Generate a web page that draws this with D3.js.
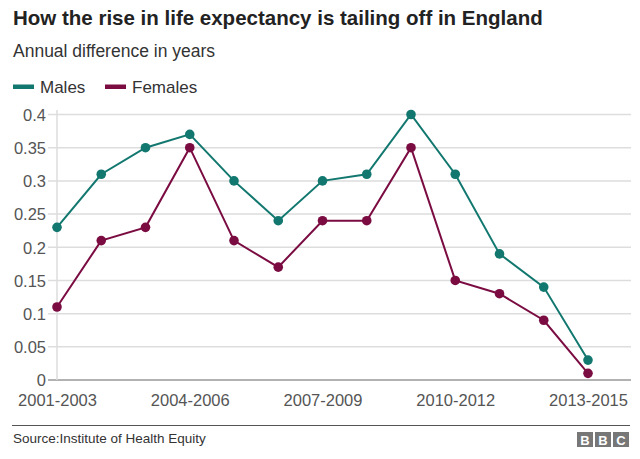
<!DOCTYPE html>
<html><head><meta charset="utf-8">
<script src="https://cdn.jsdelivr.net/npm/d3@7"></script>
<style>body{margin:0;background:#fff;font-family:"Liberation Sans",Arial,sans-serif;}</style>
</head><body><svg id="c" width="640" height="459"></svg>
<script>
const periods = ["2001-2003","2002-2004","2003-2005","2004-2006","2005-2007","2006-2008","2007-2009","2008-2010","2009-2011","2010-2012","2011-2013","2012-2014","2013-2015"];
const males   = [0.23,0.31,0.35,0.37,0.30,0.24,0.30,0.31,0.40,0.31,0.19,0.14,0.03];
const females = [0.11,0.21,0.23,0.35,0.21,0.17,0.24,0.24,0.35,0.15,0.13,0.09,0.01];
const yTicks = [0,0.05,0.1,0.15,0.2,0.25,0.3,0.35,0.4];
const xTickLabels = ["2001-2003","2004-2006","2007-2009","2010-2012","2013-2015"];
const seriesNames = ["Males","Females"];
const colors = {Males:"#12786f", Females:"#7a0c42"};

const svg = d3.select("#c");
svg.append("text").attr("x",13).attr("y",25).attr("font-size",20.5).attr("font-weight","bold").attr("fill","#222").text("How the rise in life expectancy is tailing off in England");
svg.append("text").attr("x",13).attr("y",57).attr("font-size",17.5).attr("fill","#333").text("Annual difference in years");

// legend
const leg = [{n:"Males",x:13},{n:"Females",x:105}];
leg.forEach(d=>{
  svg.append("rect").attr("x",d.x).attr("y",84.5).attr("width",21).attr("height",4.5).attr("fill",colors[d.n]);
  svg.append("text").attr("x",d.x+27).attr("y",92.5).attr("font-size",17).attr("fill","#333").text(d.n);
});

const x = d3.scalePoint().domain(periods).range([57,588]);
const y = d3.scaleLinear().domain([0,0.4]).range([380,114.5]);

// grid
const g = svg.append("g");
yTicks.forEach(t=>{
  g.append("line").attr("x1",48).attr("x2",631).attr("y1",y(t)).attr("y2",y(t))
   .attr("stroke", t===0 ? "#999" : "#ddd").attr("stroke-width",1.5);
});
g.append("line").attr("x1",57).attr("x2",57).attr("y1",110).attr("y2",380).attr("stroke","#ddd").attr("stroke-width",1.5);

const yAxis = d3.axisLeft(y).tickValues(yTicks).tickSize(0).tickPadding(0).tickFormat(d=>String(+d.toFixed(2)));
const ya = svg.append("g").attr("transform","translate(46,0)").call(yAxis);
ya.select(".domain").remove();
ya.selectAll("text").attr("font-size",16.5).attr("fill","#555").attr("font-family","Liberation Sans, Arial, sans-serif").attr("dy","0.35em");

const xAxis = d3.axisBottom(x).tickValues(xTickLabels).tickSize(0).tickPadding(0);
const xa = svg.append("g").attr("transform","translate(0,400)").call(xAxis);
xa.select(".domain").remove();
xa.selectAll("text").attr("font-size",16.5).attr("fill","#555").attr("font-family","Liberation Sans, Arial, sans-serif").attr("dy","0.35em");

const data = {Males:males, Females:females};
const line = d3.line().x((d,i)=>x(periods[i])).y(d=>y(d));
seriesNames.forEach(n=>{
  svg.append("path").datum(data[n]).attr("d",line).attr("fill","none").attr("stroke",colors[n]).attr("stroke-width",2);
  svg.selectAll(null).data(data[n]).enter().append("circle")
    .attr("cx",(d,i)=>x(periods[i])).attr("cy",d=>y(d)).attr("r",4.8).attr("fill",colors[n]);
});

// footer
svg.append("line").attr("x1",12).attr("x2",630).attr("y1",425.5).attr("y2",425.5).attr("stroke","#555").attr("stroke-width",1.2);
svg.append("text").attr("x",13).attr("y",442.5).attr("font-size",13.5).attr("fill","#333").text("Source:Institute of Health Equity");
["B","B","C"].forEach((l,i)=>{
  const bx = 577 + i*18;
  svg.append("rect").attr("x",bx).attr("y",432).attr("width",16).attr("height",15).attr("fill","#777");
  svg.append("text").attr("x",bx+8).attr("y",444.5).attr("text-anchor","middle").attr("font-size",13).attr("font-weight","bold").attr("fill","#fff").text(l);
});
</script></body></html>
